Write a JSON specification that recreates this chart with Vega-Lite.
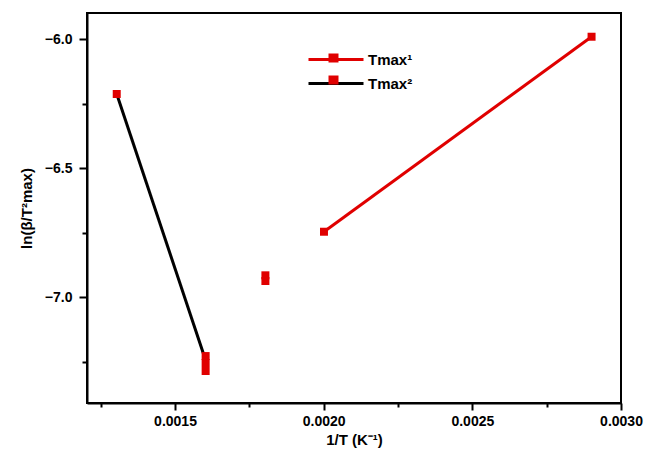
{
  "$schema": "https://vega.github.io/schema/vega-lite/v6.json",
  "width": 534,
  "height": 390,
  "autosize": "none",
  "padding": {"left": 87, "top": 13, "right": 24, "bottom": 50},
  "background": "white",
  "config": {
    "view": {"stroke": "black", "strokeWidth": 2},
    "font": "Liberation Sans",
    "axis": {
      "domainColor": "black",
      "domainWidth": 2,
      "tickColor": "black",
      "tickWidth": 2,
      "grid": false,
      "labelFont": "Liberation Sans",
      "labelFontWeight": "bold",
      "labelFontSize": 14,
      "labelColor": "black",
      "titleFont": "Liberation Sans",
      "titleFontWeight": "bold",
      "titleFontSize": 15,
      "titleColor": "black"
    },
    "legend": {
      "padding": 0,
      "labelFont": "Liberation Sans",
      "labelFontWeight": "bold",
      "labelFontSize": 15,
      "labelColor": "black"
    }
  },
  "data": {
    "values": [
      {"kind": "line", "series": "Tmax¹", "x": 0.002001, "y": -6.746},
      {"kind": "line", "series": "Tmax¹", "x": 0.002901, "y": -5.99},
      {"kind": "line", "series": "Tmax²", "x": 0.001304, "y": -6.212},
      {"kind": "line", "series": "Tmax²", "x": 0.001603, "y": -7.244},
      {"kind": "point", "group": "Tmax¹", "x": 0.002001, "y": -6.746},
      {"kind": "point", "group": "Tmax¹", "x": 0.002901, "y": -5.99},
      {"kind": "point", "group": "Tmax¹", "x": 0.001804, "y": -6.915},
      {"kind": "point", "group": "Tmax¹", "x": 0.001804, "y": -6.937},
      {"kind": "point", "group": "Tmax²", "x": 0.001304, "y": -6.212},
      {"kind": "point", "group": "Tmax²", "x": 0.001603, "y": -7.228},
      {"kind": "point", "group": "Tmax²", "x": 0.001603, "y": -7.255},
      {"kind": "point", "group": "Tmax²", "x": 0.001603, "y": -7.286}
    ]
  },
  "encoding": {
    "x": {
      "field": "x",
      "type": "quantitative",
      "scale": {"domain": [0.001204, 0.003], "nice": false, "zero": false},
      "axis": {
        "title": "1/T (K⁻¹)",
        "values": [0.00125, 0.0015, 0.00175, 0.002, 0.00225, 0.0025, 0.00275, 0.003],
        "format": ".4f",
        "labelExpr": "abs(datum.value*2000 - round(datum.value*2000)) < 0.01 ? datum.label : ''",
        "tickSize": {"condition": {"test": "abs(datum.value*2000 - round(datum.value*2000)) < 0.01", "value": 7}, "value": 4},
        "labelPadding": 4,
        "titlePadding": 4,
        "labelFlush": false
      }
    },
    "y": {
      "field": "y",
      "type": "quantitative",
      "scale": {"domain": [-7.41, -5.898], "nice": false, "zero": false},
      "axis": {
        "title": "ln(β/T²max)",
        "values": [-7.25, -7.0, -6.75, -6.5, -6.25, -6.0],
        "format": ".1f",
        "labelExpr": "abs(datum.value*2 - round(datum.value*2)) < 0.01 ? datum.label : ''",
        "tickSize": {"condition": {"test": "abs(datum.value*2 - round(datum.value*2)) < 0.01", "value": 8}, "value": 5},
        "labelPadding": 7,
        "titlePadding": 10,
        "labelFlush": false
      }
    }
  },
  "layer": [
    {
      "transform": [{"filter": "datum.kind === 'line'"}],
      "mark": {"type": "line", "strokeWidth": 3},
      "encoding": {
        "detail": {"field": "series"},
        "stroke": {
          "field": "series",
          "type": "nominal",
          "scale": {"domain": ["Tmax¹", "Tmax²"], "range": ["#e00000", "#000000"]},
          "legend": {
            "title": null,
            "orient": "none",
            "legendX": 220,
            "legendY": 35,
            "symbolType": "M-1,0H4.5",
            "symbolSize": 400,
            "symbolStrokeWidth": 3,
            "labelOffset": 38,
            "rowPadding": 4,
            "zindex": 1
          }
        }
      }
    },
    {
      "transform": [{"filter": "datum.kind === 'point'"}],
      "mark": {"type": "square", "size": 64, "filled": true, "opacity": 1},
      "encoding": {
        "fill": {
          "field": "group",
          "type": "nominal",
          "sort": "ascending",
          "scale": {"range": ["#e00000", "#e00000"]},
          "legend": {
            "title": null,
            "orient": "none",
            "legendX": 220,
            "legendY": 35,
            "symbolType": "M1.15,-0.45H2.15V0.45H1.15Z",
            "symbolSize": 400,
            "symbolStrokeWidth": 0,
            "labelExpr": "''",
            "labelOffset": 38,
            "rowPadding": 4,
            "zindex": 2
          }
        }
      }
    }
  ]
}
